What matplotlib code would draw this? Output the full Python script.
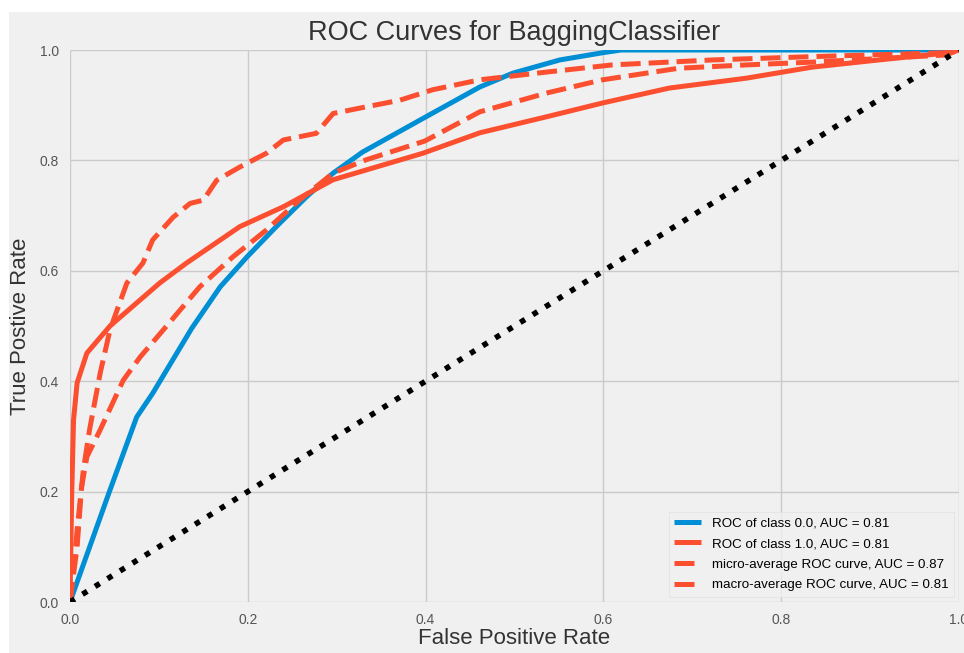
import matplotlib
matplotlib.use("Agg")
import matplotlib.pyplot as plt
from matplotlib.patches import Rectangle

plt.style.use("fivethirtyeight")
plt.rcParams["font.family"] = ["Liberation Sans", "DejaVu Sans"]

# ROC of class 0.0
fpr_c0 = [0.0, 0.045, 0.075, 0.093, 0.137, 0.169, 0.199, 0.232, 0.266, 0.296,
          0.329, 0.397, 0.461, 0.498, 0.551, 0.599, 0.62, 1.0]
tpr_c0 = [0.0, 0.203, 0.335, 0.378, 0.496, 0.571, 0.625, 0.680, 0.734, 0.777,
          0.815, 0.876, 0.933, 0.958, 0.982, 0.995, 1.0, 1.0]

# ROC of class 1.0
fpr_c1 = [0.0, 0.002, 0.004, 0.008, 0.019, 0.045, 0.101, 0.131, 0.191, 0.240,
          0.296, 0.397, 0.461, 0.536, 0.599, 0.674, 0.761, 0.835, 0.910, 0.989, 1.0]
tpr_c1 = [0.0, 0.20, 0.33, 0.397, 0.451, 0.50, 0.578, 0.614, 0.680, 0.716,
          0.765, 0.813, 0.850, 0.879, 0.904, 0.931, 0.949, 0.969, 0.982, 0.995, 1.0]

# micro-average
fpr_micro = [0.0, 0.004, 0.008, 0.015, 0.022, 0.034, 0.045, 0.053, 0.064, 0.082,
             0.093, 0.116, 0.135, 0.150, 0.165, 0.191, 0.221, 0.240, 0.277,
             0.296, 0.333, 0.371, 0.408, 0.461, 0.536, 0.610, 0.723, 0.835, 0.985, 1.0]
tpr_micro = [0.0, 0.06, 0.13, 0.239, 0.312, 0.415, 0.493, 0.529, 0.578, 0.614,
             0.656, 0.697, 0.722, 0.728, 0.764, 0.788, 0.813, 0.837, 0.849,
             0.885, 0.897, 0.909, 0.928, 0.946, 0.960, 0.973, 0.982, 0.988, 0.995, 1.0]

# macro-average
fpr_macro = [0.0, 0.004, 0.008, 0.013, 0.019, 0.034, 0.060, 0.079, 0.105, 0.146,
             0.183, 0.221, 0.258, 0.296, 0.333, 0.399, 0.461, 0.536, 0.599,
             0.685, 0.761, 0.835, 0.985, 1.0]
tpr_macro = [0.0, 0.05, 0.10, 0.208, 0.263, 0.312, 0.402, 0.444, 0.493, 0.571,
             0.625, 0.674, 0.728, 0.777, 0.801, 0.835, 0.888, 0.922, 0.946,
             0.967, 0.973, 0.978, 0.991, 1.0]

labels = ["ROC of class 0.0, AUC = 0.81",
          "ROC of class 1.0, AUC = 0.81",
          "micro-average ROC curve, AUC = 0.87",
          "macro-average ROC curve, AUC = 0.81"]

fig = plt.figure(figsize=(9.64, 6.53), dpi=100, facecolor="white")
# grey figure panel (white margin at top and left as in the screenshot)
fig.patches.append(Rectangle((9 / 964, 0), 1 - 9 / 964, 1 - 12 / 653,
                             transform=fig.transFigure, facecolor="#f0f0f0",
                             edgecolor="none", zorder=-10))
ax = fig.add_axes([70 / 964, 1 - 602 / 653, 889 / 964, 552 / 653])
ax.set_facecolor("#f0f0f0")

lw = 3.6
ax.plot(fpr_c0, tpr_c0, color="#008fd5", lw=lw, label=labels[0])
ax.plot(fpr_c1, tpr_c1, color="#fc4f30", lw=lw, label=labels[1])
ax.plot(fpr_micro, tpr_micro, color="#fc4f30", lw=lw, ls="--",
        dashes=(4.0, 1.6), label=labels[2])
ax.plot(fpr_macro, tpr_macro, color="#fc4f30", lw=lw, ls="--",
        dashes=(4.0, 1.6), label=labels[3])
ax.plot([0, 1], [0, 1], color="black", lw=4, ls=":")

ax.set_xlim(0, 1)
ax.set_ylim(0, 1)
ax.set_xticks([0, 0.2, 0.4, 0.6, 0.8, 1.0])
ax.set_yticks([0, 0.2, 0.4, 0.6, 0.8, 1.0])
ax.tick_params(labelsize=10, labelcolor="#555555", pad=8)
ax.grid(True, color="#cbcbcb", lw=1)
for s in ax.spines.values():
    s.set_visible(False)

ax.set_title("ROC Curves for BaggingClassifier", fontsize=19.5, color="#333333", pad=7)
ax.set_xlabel("False Positive Rate", fontsize=16, color="#333333", labelpad=1)
ax.set_ylabel("True Postive Rate", fontsize=16, color="#333333", labelpad=6)

leg = ax.legend(loc="lower right", fontsize=9.6, frameon=True, fancybox=False,
                borderaxespad=0.4, labelspacing=0.62)
leg.get_frame().set_facecolor("#f0f0f0")
leg.get_frame().set_edgecolor("#dddddd")

fig.savefig("out.png", dpi=100, facecolor=fig.get_facecolor())
